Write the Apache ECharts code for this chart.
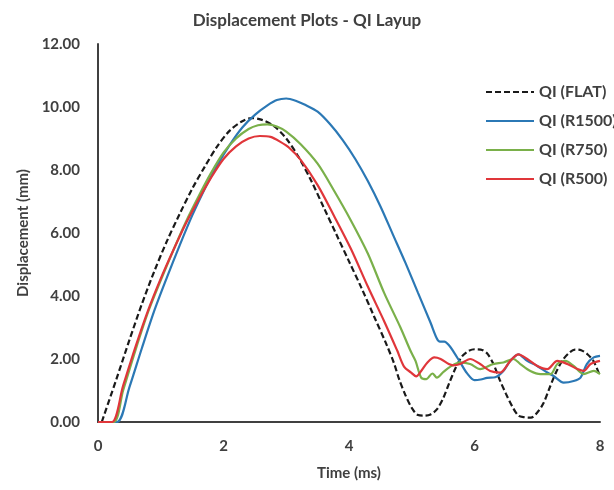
<!DOCTYPE html>
<html>
<head>
<meta charset="utf-8">
<script src="https://cdn.jsdelivr.net/npm/echarts@6/dist/echarts.min.js"></script>
<style>
  html, body { margin: 0; padding: 0; background: #fff; }
  #chart { width: 614px; height: 490px; }
</style>
</head>
<body>
<div id="chart"></div>
<script>
// Displacement histories (time in ms, displacement in mm)
const flatTime = [0.06,0.3,0.5,0.7,0.9,1.1,1.3,1.5,1.7,1.9,2.1,2.3,2.45,2.6,2.8,3.0,3.2,3.4,3.6,3.8,4.0,4.2,4.4,4.6,4.72,4.8,4.9,5.0,5.1,5.2,5.3,5.4,5.5,5.6,5.7,5.8,5.9,6.0,6.1,6.2,6.3,6.4,6.5,6.6,6.7,6.8,6.9,7.0,7.1,7.2,7.3,7.4,7.5,7.6,7.7,7.8,7.9,8.0];
const flatDisp = [0,1.4,2.6,3.75,4.8,5.75,6.6,7.4,8.1,8.75,9.25,9.55,9.65,9.6,9.4,9.0,8.4,7.65,6.8,5.95,5.1,4.25,3.35,2.45,1.85,1.35,0.85,0.45,0.22,0.2,0.24,0.4,0.75,1.25,1.72,2.08,2.25,2.31,2.3,2.18,1.85,1.35,0.9,0.5,0.2,0.15,0.14,0.3,0.6,1.1,1.58,1.95,2.18,2.3,2.28,2.15,1.92,1.45];

const r1500Time = [0,0.3,0.5,0.7,0.9,1.1,1.3,1.5,1.7,1.9,2.1,2.3,2.5,2.7,2.85,3.0,3.15,3.3,3.5,3.7,3.9,4.1,4.3,4.5,4.7,4.9,5.1,5.3,5.4,5.45,5.52,5.6,5.67,5.77,5.88,6.0,6.1,6.2,6.33,6.46,6.57,6.7,6.84,7.0,7.16,7.26,7.42,7.58,7.69,7.79,7.9,8.0];
const r1500Disp = [0,0,1.1,2.35,3.55,4.6,5.6,6.55,7.4,8.15,8.8,9.35,9.75,10.05,10.22,10.27,10.2,10.07,9.85,9.45,8.95,8.35,7.65,6.85,5.95,5.05,4.1,3.15,2.65,2.55,2.55,2.42,2.22,1.9,1.55,1.33,1.35,1.4,1.42,1.62,1.94,2.15,1.94,1.78,1.57,1.46,1.25,1.3,1.41,1.84,2.05,2.1];

const r750Time = [0,0.25,0.4,0.6,0.8,1.0,1.2,1.4,1.6,1.8,2.0,2.2,2.4,2.55,2.7,2.85,3.0,3.23,3.5,3.76,4.03,4.3,4.56,4.82,4.98,5.06,5.15,5.23,5.33,5.4,5.51,5.61,5.77,5.93,6.09,6.3,6.46,6.62,6.73,6.89,7.05,7.21,7.32,7.45,7.58,7.74,7.9,8.0];
const r750Disp = [0,0,1.0,2.3,3.5,4.5,5.45,6.35,7.15,7.9,8.55,9.0,9.3,9.42,9.45,9.38,9.22,8.82,8.2,7.35,6.4,5.35,4.1,3.0,2.26,1.94,1.41,1.36,1.54,1.41,1.6,1.75,1.89,1.84,1.68,1.84,1.89,2.0,1.84,1.62,1.52,1.52,1.84,1.94,1.78,1.52,1.62,1.52];

const r500Time = [0,0.22,0.4,0.6,0.8,1.0,1.2,1.4,1.6,1.8,2.0,2.2,2.4,2.58,2.75,2.9,3.05,3.23,3.5,3.76,4.03,4.3,4.56,4.77,4.88,4.99,5.07,5.15,5.25,5.36,5.46,5.59,5.66,5.77,5.93,6.09,6.25,6.41,6.57,6.7,6.84,7.0,7.16,7.32,7.48,7.64,7.74,7.85,8.0];
const r500Disp = [0,0,1.15,2.4,3.55,4.55,5.45,6.3,7.05,7.75,8.35,8.75,9.0,9.08,9.05,8.9,8.7,8.32,7.52,6.55,5.5,4.3,3.2,2.26,1.75,1.57,1.45,1.62,1.89,2.05,2.0,1.84,1.8,1.84,2.0,1.84,1.62,1.57,1.94,2.15,2.0,1.78,1.68,1.94,1.84,1.68,1.62,1.84,1.94];

const seriesNames = ['QI (FLAT)', 'QI (R1500)', 'QI (R750)', 'QI (R500)'];
const seriesColors = ['#1a1a1a', '#2b78b5', '#7ab04a', '#e0363a'];

const pairs = (t, d) => t.map((x, i) => [x, d[i]]);
const curves = [
  pairs(flatTime, flatDisp),
  pairs(r1500Time, r1500Disp),
  pairs(r750Time, r750Disp),
  pairs(r500Time, r500Disp)
];

const FONT = 'Lato';
const TXT = '#404040';

const chart = echarts.init(document.getElementById('chart'), null, { renderer: 'canvas' });
chart.setOption({
  animation: false,
  backgroundColor: '#ffffff',
  title: {
    text: 'Displacement Plots - QI Layup',
    left: 'center',
    top: 7,
    textStyle: { fontFamily: FONT, fontSize: 17, fontWeight: 'bold', color: TXT }
  },
  legend: {
    orient: 'vertical',
    left: 480,
    top: 79,
    itemWidth: 48,
    itemHeight: 14,
    itemGap: 13,
    itemStyle: { opacity: 0 },
    data: seriesNames,
    textStyle: { fontFamily: FONT, fontSize: 16, fontWeight: 'bold', color: TXT }
  },
  grid: { left: 98, right: 14, top: 44, bottom: 68, containLabel: false },
  xAxis: {
    type: 'value',
    min: 0, max: 8, interval: 2,
    name: 'Time (ms)',
    nameLocation: 'middle',
    nameGap: 44,
    nameTextStyle: { fontFamily: FONT, fontSize: 15, fontWeight: 'bold', color: TXT },
    axisLine: { show: true, lineStyle: { color: '#404040', width: 2 } },
    axisTick: { show: false },
    splitLine: { show: false },
    axisLabel: { fontFamily: FONT, fontSize: 15, fontWeight: 'bold', color: TXT, margin: 17 }
  },
  yAxis: {
    type: 'value',
    min: 0, max: 12, interval: 2,
    name: 'Displacement (mm)',
    nameLocation: 'middle',
    nameGap: 66,
    nameTextStyle: { fontFamily: FONT, fontSize: 15, fontWeight: 'bold', color: TXT },
    axisLine: { show: true, lineStyle: { color: '#404040', width: 2 } },
    axisTick: { show: false },
    splitLine: { show: false },
    axisLabel: { fontFamily: FONT, fontSize: 15, fontWeight: 'bold', color: TXT, margin: 18,
                 formatter: v => v.toFixed(2) }
  },
  series: curves.map((data, i) => ({
    name: seriesNames[i],
    type: 'line',
    data: data,
    symbol: 'none',
    smooth: 0.3,
    clip: true,
    color: seriesColors[i],
    lineStyle: {
      color: seriesColors[i],
      width: 2.2,
      type: i === 0 ? [6, 3] : 'solid'
    }
  }))
});
</script>
</body>
</html>
